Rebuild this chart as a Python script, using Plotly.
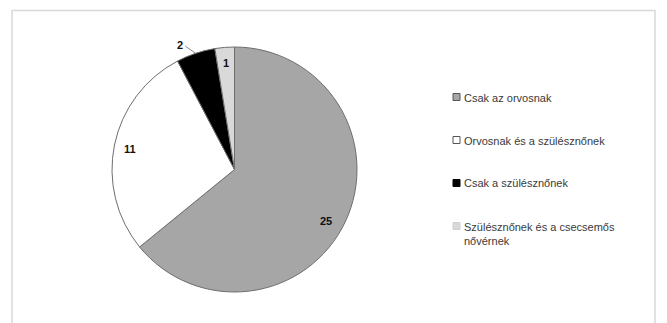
import math
import plotly.graph_objects as go

# ---- data ----
categories = [
    "Csak az orvosnak",
    "Orvosnak és a szülésznőnek",
    "Csak a szülésznőnek",
    "Szülésznőnek és a csecsemős nővérnek",
]
legend_labels = [
    "Csak az orvosnak",
    "Orvosnak és a szülésznőnek",
    "Csak a szülésznőnek",
    "Szülésznőnek és a csecsemős<br>nővérnek",
]
values = [25, 11, 2, 1]

# ---- style ----
W, H = 667, 323
colors = ["#a6a6a6", "#ffffff", "#000000", "#d9d9d9"]
legend_edge = ["#555555", "#555555", "#000000", "#d0d0d0"]
label_r = [0.86, 0.87, 1.11, 0.87]      # radial position of data labels (fraction of radius)
label_dang = [4.0, -0.5, -5.0, 0.0]     # angular nudge of data labels (degrees)

# pie placement (pixels)
cx, cy, R = 234.5, 169.5, 122.5
dom_x = [(cx - R) / W, (cx + R) / W]
dom_y = [1 - (cy + R) / H, 1 - (cy - R) / H]

fig = go.Figure()
fig.add_trace(go.Pie(
    labels=categories,
    values=values,
    sort=False,
    direction="clockwise",
    rotation=0,
    marker=dict(colors=colors, line=dict(color="#6e6e6e", width=1)),
    textinfo="none",
    hoverinfo="label+value",
    showlegend=False,
    domain=dict(x=dom_x, y=dom_y),
))

total = sum(values)
annotations = []
shapes = []

# outer chart border
shapes.append(dict(type="rect", xref="paper", yref="paper",
                   x0=12 / W, x1=655 / W, y0=-0.05, y1=1 - 10.5 / H,
                   line=dict(color="#dcd8d8", width=1.5), fillcolor="rgba(0,0,0,0)", layer="below"))

cum = 0
for i, v in enumerate(values):
    mid = (cum + v / 2) / total * 2 * math.pi
    cum += v
    ang = mid + math.radians(label_dang[i])
    r = label_r[i] * R
    px = cx + r * math.sin(ang)
    py = cy - r * math.cos(ang)
    annotations.append(dict(x=px / W, y=1 - py / H, xref="paper", yref="paper",
                            xanchor="center", yanchor="middle",
                            text="<b>%d</b>" % v, showarrow=False,
                            font=dict(family="Liberation Sans", size=11, color="#111111")))
    if label_r[i] > 1:
        # leader line from label to the slice edge
        ex = cx + R * math.sin(mid)
        ey = cy - R * math.cos(mid)
        shapes.append(dict(type="line", xref="paper", yref="paper",
                           x0=(px + 5) / W, y0=1 - (py + 1.5) / H, x1=ex / W, y1=1 - ey / H,
                           line=dict(color="#888888", width=1)))

# manual legend
lx, ly0, dy = 453, 97, 43
for i, lab in enumerate(legend_labels):
    y = ly0 + dy * i
    shapes.append(dict(type="rect", xref="paper", yref="paper",
                       x0=(lx) / W, x1=(lx + 7) / W, y0=1 - (y + 3.5) / H, y1=1 - (y - 3.5) / H,
                       fillcolor=colors[i], line=dict(color=legend_edge[i], width=1)))
    annotations.append(dict(x=(lx + 9) / W, y=1 - (y - 7.5) / H, xref="paper", yref="paper",
                            xanchor="left", yanchor="top", align="left",
                            text=lab, showarrow=False,
                            font=dict(family="Liberation Sans", size=11, color="#3a3a3a")))

fig.update_layout(
    width=W, height=H,
    margin=dict(l=0, r=0, t=0, b=0),
    paper_bgcolor="white",
    plot_bgcolor="white",
    annotations=annotations,
    shapes=shapes,
)

fig.write_html("out.html")
